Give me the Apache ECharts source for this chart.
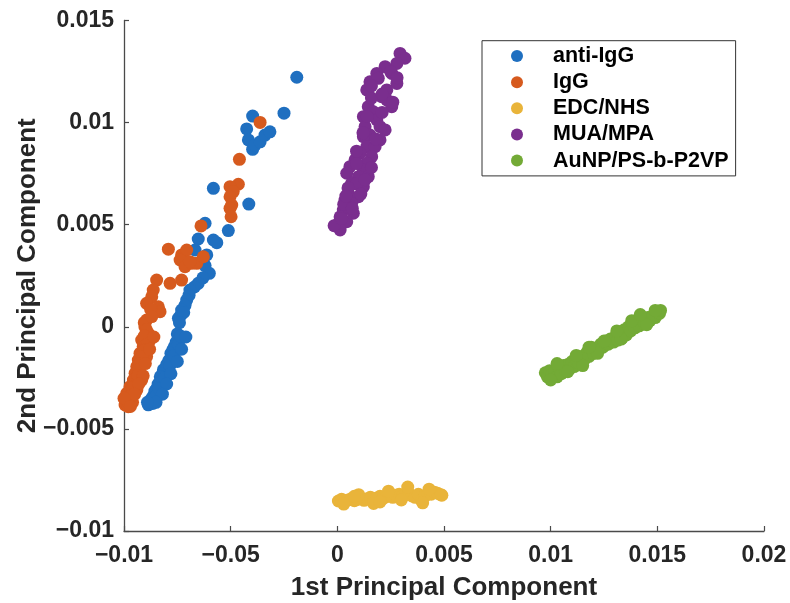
<!DOCTYPE html>
<html>
<head>
<meta charset="utf-8">
<script src="https://cdn.jsdelivr.net/npm/echarts@6/dist/echarts.min.js"></script>
<style>html,body{margin:0;padding:0;background:#fff}#c{width:790px;height:603px}</style>
</head>
<body>
<div id="c"></div>
<script>
const seriesNames = ['anti-IgG', 'IgG', 'EDC/NHS', 'MUA/MPA', 'AuNP/PS-b-P2VP'];
const xTickLabels = ['\u22120.01', '\u22120.05', '0', '0.005', '0.01', '0.015', '0.02'];
const yTickLabels = ['\u22120.01', '\u22120.005', '0', '0.005', '0.01', '0.015'];

const antiIgG = [
  [-0.00190,0.01222],[-0.00250,0.01046],[-0.00397,0.01032],[-0.00425,0.00969],[-0.00417,0.00915],
  [-0.00397,0.00869],[-0.00386,0.00890],[-0.00362,0.00906],[-0.00339,0.00939],[-0.00316,0.00955],
  [-0.00581,0.00678],[-0.00415,0.00601],[-0.00511,0.00471],[-0.00620,0.00507],[-0.00652,0.00430],
  [-0.00581,0.00425],[-0.00565,0.00412],[-0.00612,0.00352],[-0.00667,0.00376],[-0.00620,0.00300],
  [-0.00600,0.00262],[-0.00630,0.00240],[-0.00652,0.00213],[-0.00670,0.00195],[-0.00691,0.00180],
  [-0.00695,0.00155],[-0.00706,0.00131],[-0.00714,0.00105],[-0.00730,0.00082],[-0.00735,0.00055],
  [-0.00745,0.00042],[-0.00720,0.00070],[-0.00740,0.00020],
  [-0.00750,-0.00035],[-0.00740,-0.00055],[-0.00755,-0.00075],[-0.00762,-0.00095],[-0.00770,-0.00110],
  [-0.00780,-0.00130],[-0.00775,-0.00150],[-0.00790,-0.00165],[-0.00800,-0.00185],[-0.00795,-0.00205],
  [-0.00815,-0.00210],[-0.00820,-0.00230],[-0.00830,-0.00245],[-0.00825,-0.00265],[-0.00840,-0.00280],
  [-0.00845,-0.00300],[-0.00855,-0.00315],[-0.00860,-0.00335],[-0.00870,-0.00350],[-0.00878,-0.00365],
  [-0.00886,-0.00382],[-0.00865,-0.00375],[-0.00850,-0.00340],[-0.00835,-0.00305],[-0.00810,-0.00250],
  [-0.00785,-0.00190],[-0.00765,-0.00140],[-0.00745,-0.00085],[-0.00735,-0.00045],
  [-0.00710,-0.00050],[-0.00730,-0.00110],[-0.00750,-0.00170],[-0.00780,-0.00230],[-0.00800,-0.00280],
  [-0.00820,-0.00330],[-0.00850,-0.00370],[-0.00890,-0.00370]
];
const igG = [
  [-0.00362,0.01001],[-0.00459,0.00820],[-0.00464,0.00698],[-0.00503,0.00686],[-0.00488,0.00662],
  [-0.00503,0.00637],[-0.00495,0.00596],[-0.00503,0.00580],[-0.00498,0.00539],[-0.00639,0.00494],
  [-0.00792,0.00380],[-0.00730,0.00352],[-0.00706,0.00376],[-0.00737,0.00327],[-0.00714,0.00294],
  [-0.00683,0.00311],[-0.00659,0.00311],[-0.00628,0.00343],[-0.00691,0.00319],[-0.00730,0.00229],
  [-0.00847,0.00229],[-0.00784,0.00213],[-0.00863,0.00180],[-0.00870,0.00147],[-0.00894,0.00115],
  [-0.00839,0.00098],[-0.00831,0.00074],[-0.00875,0.00085],
  [-0.00894,0.00033],[-0.00902,0.00000],[-0.00886,-0.00032],[-0.00917,-0.00065],[-0.00878,-0.00065],
  [-0.00910,-0.00097],[-0.00925,-0.00130],[-0.00894,-0.00146],[-0.00933,-0.00163],[-0.00940,-0.00195],
  [-0.00948,-0.00228],[-0.00917,-0.00261],[-0.00956,-0.00261],[-0.00972,-0.00293],[-0.00940,-0.00310],
  [-0.00987,-0.00326],[-0.00995,-0.00359],[-0.00995,-0.00383],[-0.00980,-0.00391],[-0.00905,0.00020],
  [-0.00895,-0.00015],[-0.00905,-0.00045],[-0.00890,-0.00085],[-0.00905,-0.00115],[-0.00915,-0.00145],
  [-0.00925,-0.00180],[-0.00930,-0.00210],[-0.00935,-0.00240],[-0.00960,-0.00300],[-0.00970,-0.00340],
  [-0.00960,-0.00370],
  [-0.00870,0.00050],[-0.00860,-0.00050],[-0.00880,-0.00110],[-0.00900,-0.00180],[-0.00910,-0.00240],
  [-0.00930,-0.00280],[-0.00950,-0.00330],[-0.01000,-0.00350],[-0.00970,-0.00390]
];
const edcNhs = [
  [0.00005,-0.00853],[0.00020,-0.00845],[0.00035,-0.00855],[0.00050,-0.00848],[0.00065,-0.00842],
  [0.00080,-0.00852],[0.00095,-0.00845],[0.00110,-0.00840],[0.00125,-0.00850],[0.00140,-0.00842],
  [0.00155,-0.00835],[0.00170,-0.00845],[0.00185,-0.00838],[0.00200,-0.00830],[0.00215,-0.00840],
  [0.00230,-0.00832],[0.00245,-0.00825],[0.00260,-0.00835],[0.00275,-0.00825],[0.00290,-0.00820],
  [0.00305,-0.00830],[0.00320,-0.00822],[0.00335,-0.00815],[0.00350,-0.00828],[0.00365,-0.00835],
  [0.00380,-0.00820],[0.00395,-0.00850],[0.00410,-0.00830],[0.00425,-0.00815],[0.00440,-0.00820],
  [0.00455,-0.00810],[0.00470,-0.00815],[0.00485,-0.00822],[0.00490,-0.00825],
  [0.00030,-0.00868],[0.00100,-0.00822],[0.00170,-0.00865],[0.00240,-0.00805],[0.00300,-0.00848],
  [0.00330,-0.00785],[0.00400,-0.00862],[0.00430,-0.00795],[0.00080,-0.00830],[0.00200,-0.00858]
];
const muaMpa = [
  [0.00294,0.01339],[0.00317,0.01315],[0.00279,0.01290],[0.00224,0.01274],[0.00185,0.01241],
  [0.00153,0.01200],[0.00138,0.01160],[0.00192,0.01217],[0.00255,0.01241],[0.00279,0.01192],
  [0.00232,0.01160],[0.00208,0.01127],[0.00255,0.01078],[0.00232,0.01111],[0.00145,0.01078],
  [0.00122,0.01029],[0.00169,0.01053],[0.00185,0.01013],[0.00130,0.00980],[0.00200,0.00980],
  [0.00224,0.00964],[0.00153,0.00939],[0.00122,0.00931],[0.00200,0.00915],[0.00138,0.00882],
  [0.00177,0.00882],[0.00106,0.00850],[0.00161,0.00833],[0.00083,0.00817],[0.00138,0.00801],
  [0.00059,0.00784],[0.00122,0.00768],[0.00044,0.00752],[0.00099,0.00735],[0.00145,0.00735],
  [0.00067,0.00703],[0.00122,0.00686],[0.00052,0.00654],[0.00099,0.00637],[0.00036,0.00621],
  [0.00067,0.00605],[0.00028,0.00572],[0.00075,0.00556],[0.00013,0.00539],[0.00044,0.00515],
  [-0.00003,0.00499],[0.00013,0.00474],[-0.00015,0.00495],[0.00160,0.01120],[0.00090,0.00700],
  [0.00210,0.01050],[0.00120,0.00950],[0.00180,0.00920],[0.00090,0.00800],[0.00160,0.00780],
  [0.00050,0.00680],[0.00110,0.00650],[0.00030,0.00600],[0.00070,0.00580],[0.00020,0.00530],
  [0.00250,0.01250],[0.00280,0.01220],[0.00160,0.01180],[0.00210,0.01140],[0.00260,0.01100],
  [0.00140,0.01030],[0.00090,0.00860],[0.00130,0.00720],[0.00040,0.00640]
];
const auNp = [
  [0.00975,-0.00225],[0.00985,-0.00245],[0.00995,-0.00215],[0.01005,-0.00235],[0.01020,-0.00220],
  [0.01030,-0.00245],[0.01040,-0.00200],[0.01050,-0.00230],[0.01060,-0.00190],[0.01070,-0.00215],
  [0.01080,-0.00185],[0.01090,-0.00205],[0.01100,-0.00170],[0.01110,-0.00195],[0.01120,-0.00160],
  [0.01130,-0.00175],[0.01145,-0.00145],[0.01155,-0.00165],[0.01170,-0.00125],[0.01180,-0.00145],
  [0.01190,-0.00100],[0.01200,-0.00130],[0.01210,-0.00105],[0.01220,-0.00120],[0.01235,-0.00085],
  [0.01245,-0.00100],[0.01260,-0.00070],[0.01270,-0.00085],[0.01280,-0.00060],[0.01295,-0.00075],
  [0.01305,-0.00045],[0.01315,-0.00065],[0.01325,-0.00030],[0.01335,-0.00055],[0.01345,-0.00015],
  [0.01355,-0.00040],[0.01365,0.00000],[0.01375,-0.00020],[0.01385,0.00015],[0.01395,-0.00005],
  [0.01405,0.00025],[0.01415,0.00005],[0.01430,0.00035],[0.01440,0.00015],[0.01455,0.00045],
  [0.01465,0.00030],[0.01480,0.00055],[0.01490,0.00045],[0.01500,0.00075],[0.01510,0.00065],
  [0.01515,0.00080],
  [0.01000,-0.00260],[0.01080,-0.00220],[0.01150,-0.00190],[0.01220,-0.00130],[0.01180,-0.00100],
  [0.01250,-0.00070],[0.01330,-0.00060],[0.01310,-0.00020],[0.01380,0.00030],[0.01450,0.00010],
  [0.01420,0.00060],[0.01490,0.00080],[0.01030,-0.00180],[0.01120,-0.00140]
];
const seriesData = [antiIgG, igG, edcNhs, muaMpa, auNp];
const colors = ['#1f6fc0', '#d65a1e', '#e9b43a', '#7a2e8e', '#73aa36'];

const FONT = '"Liberation Sans", Arial, sans-serif';
const axisColor = '#4a4a4a';
const textColor = '#262626';

const chart = echarts.init(document.getElementById('c'), null, {renderer: 'canvas'});
chart.setOption({
  animation: false,
  backgroundColor: '#ffffff',
  grid: {left: 124, right: 26, top: 20.5, bottom: 72, containLabel: false, outerBoundsMode: 'none'},
  legend: {
    orient: 'vertical',
    left: 482, top: 40.7,
    padding: [4.3, 7, 4.3, 29],
    itemWidth: 12, itemHeight: 12, itemGap: 4.15,
    icon: 'circle',
    borderColor: '#333333', borderWidth: 1, borderRadius: 0,
    backgroundColor: '#ffffff',
    textStyle: {fontFamily: FONT, fontWeight: 'bold', fontSize: 21.5, color: '#000000', padding: [0, 0, 0, 25]},
    data: seriesNames
  },
  xAxis: {
    type: 'value', min: -0.01, max: 0.02, interval: 0.005,
    name: '1st Principal Component', nameLocation: 'middle', nameGap: 44, nameMoveOverlap: false,
    nameTextStyle: {fontFamily: FONT, fontWeight: 'bold', fontSize: 26, color: textColor},
    axisLine: {show: true, onZero: false, lineStyle: {color: axisColor, width: 1.3}},
    axisTick: {show: true, inside: true, length: 5, lineStyle: {color: axisColor, width: 1.2}},
    splitLine: {show: false},
    axisLabel: {
      margin: 13, fontFamily: FONT, fontWeight: 'bold', fontSize: 23, color: textColor,
      formatter: v => xTickLabels[Math.round((v + 0.01) / 0.005)]
    }
  },
  yAxis: {
    type: 'value', min: -0.01, max: 0.015, interval: 0.005,
    name: '2nd Principal Component', nameLocation: 'middle', nameGap: 83, nameMoveOverlap: false,
    nameTextStyle: {fontFamily: FONT, fontWeight: 'bold', fontSize: 26, color: textColor},
    axisLine: {show: true, onZero: false, lineStyle: {color: axisColor, width: 1.3}},
    axisTick: {show: true, inside: true, length: 5, lineStyle: {color: axisColor, width: 1.2}},
    splitLine: {show: false},
    axisLabel: {
      margin: 10, fontFamily: FONT, fontWeight: 'bold', fontSize: 23, color: textColor,
      formatter: v => yTickLabels[Math.round((v + 0.01) / 0.005)]
    }
  },
  series: seriesNames.map((n, i) => ({
    name: n, type: 'scatter', symbol: 'circle', symbolSize: 13,
    itemStyle: {color: colors[i], opacity: 1},
    data: seriesData[i]
  }))
});
</script>
</body>
</html>
